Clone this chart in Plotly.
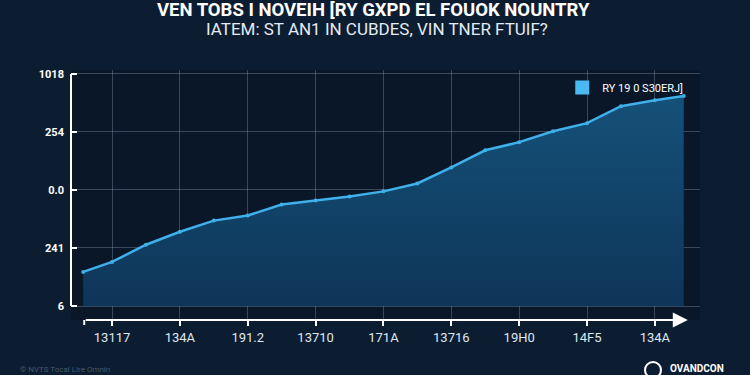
import plotly.graph_objects as go

# ---- data ----
x_pos = [0.15, 1, 2, 3, 4, 5, 6, 7, 8, 9, 10, 11, 12, 13, 14, 15, 16, 17, 17.85]
values = [14.7, 19.0, 26.4, 32.0, 36.8, 39.0, 43.7, 45.5, 47.2, 49.4,
          52.8, 59.7, 67.1, 70.6, 75.3, 78.8, 86.1, 88.7, 90.5]

x_tickvals = [1, 3, 5, 7, 9, 11, 13, 15, 17]
x_ticktext = ["13117", "134A", "191.2", "13710", "171A", "13716", "19H0", "14F5", "134A"]

y_tickvals = [0, 25, 50, 75, 100]
y_ticktext = ["6", "241", "0.0", "254", "1018"]

title_main = "VEN TOBS I NOVEIH [RY GXPD EL FOUOK NOUNTRY"
title_sub = "IATEM: ST AN1 IN CUBDES, VIN TNER FTUIF?"
legend_name = "RY 19 0 S30ERJ]"
watermark = "OVANDCON"
footnote = "© NVTS Tocal Lire Omnin"

# ---- styling ----
PAPER = "#0d1d31"
PLOT = "#0a1729"
LINE = "#3fb0ea"
GRID = "rgba(130,150,175,0.38)"

fig = go.Figure()

fig.add_trace(go.Scatter(
    x=x_pos, y=values,
    mode="lines+markers",
    line=dict(color=LINE, width=2.5),
    marker=dict(size=4, color=LINE),
    fill="tozeroy",
    fillgradient=dict(type="vertical",
                      colorscale=[[0, "#0e3558"], [1, "#155179"]]),
    showlegend=False,
    hoverinfo="skip",
))

# legend entry (square swatch)
fig.add_trace(go.Scatter(
    x=[None], y=[None], mode="markers", name=legend_name,
    marker=dict(symbol="square", size=14, color="#4bb9f2"),
))

fig.update_layout(
    width=750, height=375,
    margin=dict(l=71, r=50, t=70, b=55),
    paper_bgcolor=PAPER,
    plot_bgcolor=PLOT,
    font=dict(family="Roboto, sans-serif", color="white"),
    legend=dict(x=0.781, y=0.93, xanchor="left", yanchor="middle",
                bgcolor="rgba(0,0,0,0)", itemwidth=30,
                font=dict(family="Liberation Sans Narrow, Roboto, sans-serif",
                          size=11, color="white")),
    xaxis=dict(
        range=[-0.21, 18.33],
        tickvals=x_tickvals, ticktext=x_ticktext,
        showgrid=True, gridcolor=GRID, gridwidth=1,
        zeroline=False, showline=False,
        ticks="outside", ticklen=5, tickwidth=2, tickcolor="white",
        tickfont=dict(family="Liberation Sans Narrow, Roboto, sans-serif",
                      size=13, color="#dfe7ef"),
    ),
    yaxis=dict(
        range=[-6.03, 101.7],
        tickvals=y_tickvals, ticktext=y_ticktext,
        showgrid=True, gridcolor=GRID, gridwidth=1,
        zeroline=False, showline=False,
        ticks="inside", ticklen=6, tickwidth=2, tickcolor="white",
        ticklabelstandoff=6,
        tickfont=dict(family="Roboto, sans-serif", size=11, color="white",
                      weight="bold"),
    ),
    shapes=[
        # y axis bracket line
        dict(type="line", xref="paper", yref="y", x0=0, x1=0, y0=0, y1=100,
             line=dict(color="white", width=2)),
        # x axis left end tick
        dict(type="line", xref="x", yref="paper", x0=0.18, x1=0.18,
             y0=0, y1=-0.02, line=dict(color="white", width=2)),
        # watermark icon
        dict(type="circle", xref="paper", yref="paper",
             x0=(645 - 71) / 629, x1=(661 - 71) / 629,
             y0=(320 - 378) / 250, y1=(320 - 362) / 250,
             line=dict(color="white", width=2)),
    ],
    annotations=[
        dict(text="<b>" + title_main + "</b>", xref="paper", yref="paper",
             x=(373 - 71) / 629, y=1 + 60.5 / 250, xanchor="center", yanchor="middle",
             showarrow=False, font=dict(family="Roboto, sans-serif", size=18.5, color="white")),
        dict(text=title_sub, xref="paper", yref="paper",
             x=(377 - 71) / 629, y=1 + 41.5 / 250, xanchor="center", yanchor="middle",
             showarrow=False, font=dict(family="Roboto, sans-serif", size=17, color="#e4ebf2")),
        # x axis arrow
        dict(x=17.97, y=-6.03, ax=0.18, ay=-6.03, xref="x", yref="y",
             axref="x", ayref="y", showarrow=True, arrowhead=2,
             arrowsize=1.5, arrowwidth=2, arrowcolor="white", text=""),
        dict(text="<b>" + watermark + "</b>", xref="paper", yref="paper",
             x=(668 - 71) / 629, y=(320 - 368) / 250, xanchor="left", yanchor="middle",
             showarrow=False, font=dict(family="Roboto, sans-serif", size=10, color="white")),
        dict(text=footnote, xref="paper", yref="paper",
             x=(18 - 71) / 629, y=(320 - 369) / 250, xanchor="left", yanchor="middle",
             showarrow=False, font=dict(family="Roboto, sans-serif", size=8,
                                        color="rgba(150,165,180,0.45)")),
    ],
)

fig.write_html("out.html",
               config={"displayModeBar": False},
               post_script="document.body.style.margin='0';"
                           "document.body.style.background='#0d1d31';")
